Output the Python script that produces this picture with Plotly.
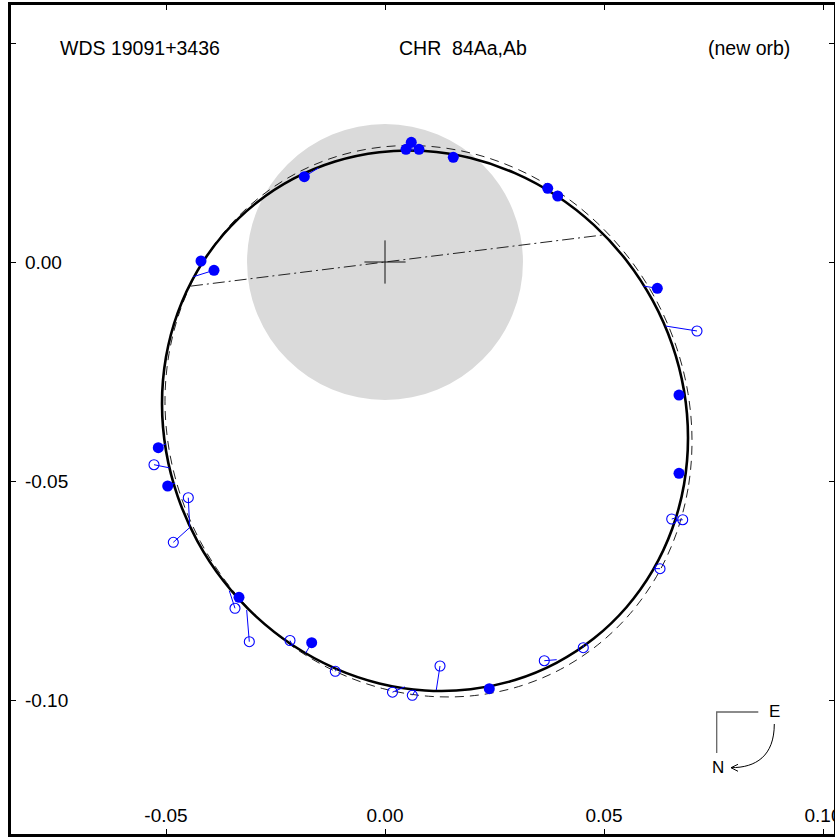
import plotly.graph_objects as go

# ---------------- data ----------------
# new orbit (solid), sampled around the ellipse
orbit_x = [0.06918, 0.06827, 0.06556, 0.06113, 0.05513, 0.04773, 0.03916, 0.02967, 0.01956, 0.00913,
           -0.00129, -0.01140, -0.02089, -0.02947, -0.03686, -0.04287, -0.04729, -0.05000, -0.05091,
           -0.05000, -0.04729, -0.04287, -0.03686, -0.02947, -0.02089, -0.01140, -0.00129, 0.00913,
           0.01956, 0.02967, 0.03916, 0.04773, 0.05513, 0.06113, 0.06556, 0.06827]
orbit_y = [-0.04015, -0.05078, -0.06097, -0.07042, -0.07882, -0.08592, -0.09152, -0.09544, -0.09756, -0.09782,
           -0.09621, -0.09277, -0.08762, -0.08090, -0.07283, -0.06365, -0.05363, -0.04309, -0.03234,
           -0.02171, -0.01151, -0.00207, 0.00633, 0.01343, 0.01903, 0.02295, 0.02507, 0.02533,
           0.02372, 0.02028, 0.01513, 0.00841, 0.00035, -0.00884, -0.01886, -0.02940]

# previous orbit (dashed)
old_x = [0.07009, 0.06918, 0.06646, 0.06203, 0.05602, 0.04860, 0.04001, 0.03051, 0.02038, 0.00993,
         -0.00051, -0.01064, -0.02015, -0.02874, -0.03615, -0.04217, -0.04660, -0.04931, -0.05023,
         -0.04931, -0.04660, -0.04217, -0.03615, -0.02874, -0.02015, -0.01064, -0.00051, 0.00993,
         0.02038, 0.03051, 0.04001, 0.04860, 0.05602, 0.06203, 0.06646, 0.06918]
old_y = [-0.04095, -0.05178, -0.06214, -0.07173, -0.08023, -0.08740, -0.09303, -0.09693, -0.09899, -0.09914,
         -0.09739, -0.09379, -0.08843, -0.08150, -0.07320, -0.06378, -0.05352, -0.04274, -0.03177,
         -0.02094, -0.01057, -0.00099, 0.00752, 0.01469, 0.02031, 0.02421, 0.02627, 0.02643,
         0.02468, 0.02107, 0.01572, 0.00878, 0.00048, -0.00894, -0.01920, -0.02998]

# line of nodes (end points on the orbit)
nodes_x = [-0.0443, 0.0500]
nodes_y = [-0.0055, 0.0062]

# primary star position and resolution-limit disk radius
star_x, star_y = 0.0, 0.0
disk_radius = 0.0315

# filled symbols: speckle measures, and their predicted positions
fill_x = [-0.04201, -0.03904, -0.01842, 0.00479, 0.00600, 0.00776, 0.01559, 0.03715, 0.03943,
          0.06217, 0.06712, 0.06712, -0.05176, -0.04961, -0.03333, -0.01674, 0.02381]
fill_y = [0.00023, -0.00189, 0.01947, 0.02573, 0.02733, 0.02573, 0.02390, 0.01683, 0.01507,
          -0.00600, -0.03037, -0.04824, -0.04240, -0.05114, -0.07655, -0.08692, -0.09742]
fill_px = [-0.04180, -0.04377, -0.01523, 0.00450, 0.00620, 0.00800, 0.01600, 0.03720, 0.03960,
           0.05900, 0.06820, 0.06820, -0.05000, -0.04790, -0.03320, -0.01811, 0.02380]
fill_py = [0.00000, -0.00336, 0.02146, 0.02530, 0.02535, 0.02535, 0.02440, 0.01630, 0.01480,
           -0.00550, -0.03000, -0.04750, -0.04150, -0.05050, -0.07680, -0.08930, -0.09670]

# open symbols: other measures, and their predicted positions
open_x = [0.07123, 0.06546, 0.06797, 0.06279, 0.04527, 0.03637, 0.01256, 0.00623, 0.00171,
          -0.01135, -0.02169, -0.03098, -0.03425, -0.04833, -0.04491, -0.05274]
open_y = [-0.01575, -0.05868, -0.05884, -0.07002, -0.08806, -0.09103, -0.09224, -0.09893, -0.09822,
          -0.09345, -0.08642, -0.08669, -0.07906, -0.06400, -0.05381, -0.04628]
open_px = [0.06400, 0.06610, 0.06620, 0.06130, 0.04530, 0.03920, 0.01171, 0.00700, 0.00450,
           -0.01100, -0.02120, -0.03158, -0.03555, -0.04452, -0.04459, -0.04920]
open_py = [-0.01461, -0.05850, -0.05900, -0.07000, -0.08750, -0.09080, -0.09772, -0.09770, -0.09700,
           -0.09290, -0.08740, -0.07945, -0.07505, -0.06057, -0.06043, -0.04700]

x_tickvals = [-0.05, 0.0, 0.05, 0.10]
x_ticktext = ["-0.05", "0.00", "0.05", "0.10"]
y_tickvals = [-0.10, -0.05, 0.0, 0.05]
y_ticktext = ["-0.10", "-0.05", "0.00", ""]

title_left = "WDS 19091+3436"
title_mid = "CHR\u00a0\u00a084Aa,Ab"
title_right = "(new orb)"

# ---------------- layout geometry ----------------
W, H = 835, 837
ML, MR, MT, MB = 11, 1, 5, 3
X_RANGE = [-0.085388, 0.102511]
Y_RANGE = [-0.130594, 0.058676]
PW = W - ML - MR
PH = H - MT - MB
FONT = "Liberation Sans, Arial, Helvetica, sans-serif"
BLUE = "#0000ff"


def px(x):
    return (x - ML) / PW


def py(y):
    return (H - MB - y) / PH


fig = go.Figure()

# orbits
fig.add_trace(go.Scatter(x=old_x + old_x[:1], y=old_y + old_y[:1], mode="lines",
                         line=dict(color="#222222", width=1, dash="9px,6px", shape="spline"),
                         hoverinfo="skip"))
fig.add_trace(go.Scatter(x=orbit_x + orbit_x[:1], y=orbit_y + orbit_y[:1], mode="lines",
                         line=dict(color="black", width=2.6, shape="spline"), hoverinfo="skip"))
# line of nodes
fig.add_trace(go.Scatter(x=nodes_x, y=nodes_y, mode="lines",
                         line=dict(color="#222222", width=1, dash="12px,4px,2px,4px"), hoverinfo="skip"))

# O-C lines
oc_x, oc_y = [], []
for a, b, c, d in zip(fill_x + open_x, fill_y + open_y, fill_px + open_px, fill_py + open_py):
    oc_x += [a, c, None]
    oc_y += [b, d, None]
fig.add_trace(go.Scatter(x=oc_x, y=oc_y, mode="lines", line=dict(color=BLUE, width=1), hoverinfo="skip"))

fig.add_trace(go.Scatter(x=open_x, y=open_y, mode="markers",
                         marker=dict(symbol="circle-open", size=10, color=BLUE, line=dict(width=1.1))))
fig.add_trace(go.Scatter(x=fill_x, y=fill_y, mode="markers",
                         marker=dict(symbol="circle", size=11, color=BLUE, line=dict(width=0))))

# disk and cross at the primary
fig.add_shape(type="circle", xref="x", yref="y", x0=star_x - disk_radius, x1=star_x + disk_radius,
              y0=star_y - disk_radius, y1=star_y + disk_radius, fillcolor="#dadada",
              line=dict(width=0), layer="below")
arm = 0.0047
fig.add_shape(type="line", xref="x", yref="y", x0=star_x - arm, x1=star_x + arm, y0=star_y, y1=star_y,
              line=dict(color="#111111", width=1))
fig.add_shape(type="line", xref="x", yref="y", x0=star_x, x1=star_x, y0=star_y - arm * 1.05,
              y1=star_y + arm * 1.05, line=dict(color="#111111", width=1))

# compass (E / N)
fig.add_shape(type="path", xref="paper", yref="paper",
              path=f"M {px(758.3)},{py(712)} L {px(716.7)},{py(712)} L {px(716.7)},{py(753)}",
              line=dict(color="#666666", width=1.3))
fig.add_shape(type="path", xref="paper", yref="paper",
              path=(f"M {px(774.3)},{py(724)} C {px(774.3)},{py(756)} {px(756)},{py(767.7)} "
                    f"{px(731)},{py(767.7)}"),
              line=dict(color="black", width=1))
fig.add_shape(type="path", xref="paper", yref="paper",
              path=f"M {px(738)},{py(764.3)} L {px(731)},{py(767.7)} L {px(738)},{py(771.3)}",
              line=dict(color="black", width=1))

annots = [
    dict(text="E", x=px(774.3), y=py(711.3), xanchor="center", yanchor="middle", size=17),
    dict(text="N", x=px(717.7), y=py(767.7), xanchor="center", yanchor="middle", size=17),
    dict(text=title_left, x=px(59), y=py(48), xanchor="left", yanchor="middle", size=19.5),
    dict(text=title_mid, x=px(398), y=py(48), xanchor="left", yanchor="middle", size=19.5),
    dict(text=title_right, x=px(791), y=py(48), xanchor="right", yanchor="middle", size=19.5),
]
for a in annots:
    fig.add_annotation(text=a["text"], x=a["x"], y=a["y"], xref="paper", yref="paper",
                       xanchor=a["xanchor"], yanchor=a["yanchor"], showarrow=False,
                       borderpad=0, font=dict(family=FONT, size=a["size"], color="black"))

axis_common = dict(showgrid=False, zeroline=False, showline=True, linecolor="black", linewidth=2.5,
                   mirror="ticks", ticks="inside", ticklen=5, tickwidth=1, tickcolor="black",
                   ticklabelposition="inside", ticklabeloverflow="allow", automargin=False,
                   tickfont=dict(family=FONT, size=19, color="black"))

fig.update_layout(
    width=W, height=H, margin=dict(l=ML, r=MR, t=MT, b=MB, pad=0, autoexpand=False),
    paper_bgcolor="white", plot_bgcolor="white", showlegend=False,
    xaxis=dict(range=X_RANGE, tickvals=x_tickvals, ticktext=x_ticktext, ticklabelstandoff=4,
               **axis_common),
    yaxis=dict(range=Y_RANGE, tickvals=y_tickvals, ticktext=y_ticktext, ticklabelstandoff=10,
               **axis_common),
)

fig.write_html("out.html", config={"displayModeBar": False},
               post_script="document.body.style.margin='0';document.body.style.overflow='hidden';")
